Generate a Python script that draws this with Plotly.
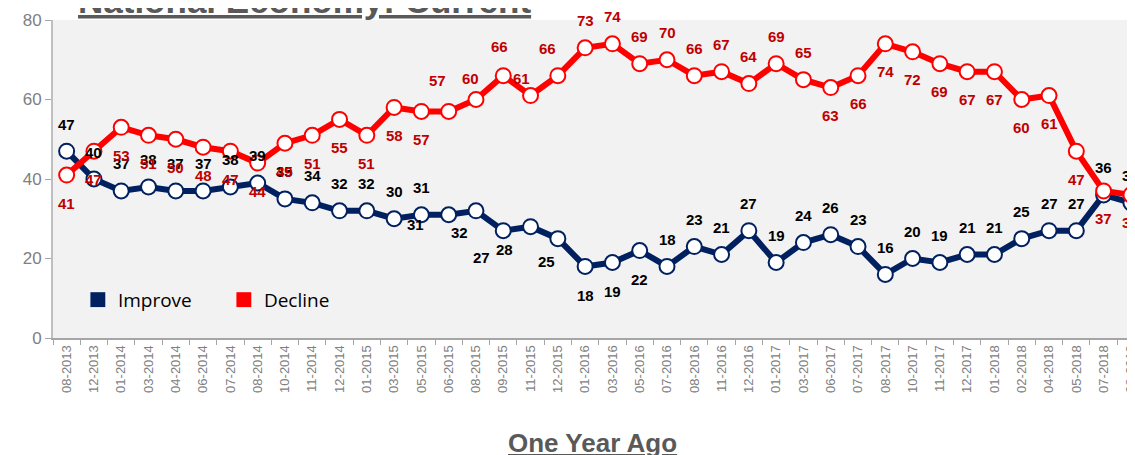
import plotly.graph_objects as go

categories = ["08-2013", "12-2013", "01-2014", "03-2014", "04-2014", "06-2014", "07-2014", "08-2014",
              "10-2014", "11-2014", "12-2014", "01-2015", "03-2015", "05-2015", "06-2015", "08-2015",
              "09-2015", "11-2015", "12-2015", "01-2016", "03-2016", "05-2016", "07-2016", "08-2016",
              "11-2016", "12-2016", "01-2017", "03-2017", "06-2017", "07-2017", "08-2017", "10-2017",
              "11-2017", "12-2017", "01-2018", "02-2018", "04-2018", "05-2018", "07-2018", "08-2018"]

improve = [47, 40, 37, 38, 37, 37, 38, 39, 35, 34, 32, 32, 30, 31, 31, 32, 27, 28, 25, 18,
           19, 22, 18, 23, 21, 27, 19, 24, 26, 23, 16, 20, 19, 21, 21, 25, 27, 27, 36, 34]

decline = [41, 47, 53, 51, 50, 48, 47, 44, 49, 51, 55, 51, 58, 57, 57, 60, 66, 61, 66, 73,
           74, 69, 70, 66, 67, 64, 69, 65, 63, 66, 74, 72, 69, 67, 67, 60, 61, 47, 37, 36]

y_ticks = [0, 20, 40, 60, 80]

# label offsets in screen pixels (dx right, dy down) -- styling only
imp_dx = [0] * 40
imp_dy = [-27] * 40
for i, (dx, dy) in {14: (-33, 10), 15: (-16, 22), 16: (-22, 27), 17: (-26, 23), 18: (-11, 23),
                    19: (0, 29), 20: (0, 29), 21: (0, 29)}.items():
    imp_dx[i], imp_dy[i] = dx, dy

dec_dx = [0] * 40
dec_dy = [28] * 40
for i in range(14, 28):
    dec_dy[i] = -27
for i, (dx, dy) in {14: (-11, -31), 15: (-5, -21), 16: (-4, -29), 17: (-9, -17), 18: (-10, -27)}.items():
    dec_dx[i], dec_dy[i] = dx, dy

NAVY = "#002060"
RED = "#FF0000"
DARKRED = "#C00000"
FONT = "Liberation Sans, Arial, sans-serif"

# the page body has an 8px default margin; figure size/margins compensate for it
W, H = 1127, 447
ML, MT, MB = 45, 12, 117
PW = W - ML

fig = go.Figure()

fig.add_trace(go.Scatter(
    x=categories, y=improve, mode="lines+markers", showlegend=False,
    line=dict(color=NAVY, width=6),
    marker=dict(symbol="circle", size=15, color="white", line=dict(color=NAVY, width=2)),
    cliponaxis=False,
))
fig.add_trace(go.Scatter(
    x=categories, y=decline, mode="lines+markers", showlegend=False,
    line=dict(color=RED, width=6),
    marker=dict(symbol="circle", size=15, color="white", line=dict(color=RED, width=2)),
    cliponaxis=False,
))

# legend entries
fig.add_trace(go.Scatter(x=[None], y=[None], mode="markers", name="Improve",
                         marker=dict(symbol="square", size=16, color=NAVY, line=dict(color="white", width=1))))
fig.add_trace(go.Scatter(x=[None], y=[None], mode="markers", name="Decline",
                         marker=dict(symbol="square", size=16, color=RED, line=dict(color="white", width=1))))

annotations = []
for c, v, dx, dy in zip(categories, improve, imp_dx, imp_dy):
    annotations.append(dict(x=c, y=v, xref="x", yref="y", text=f"<b>{v}</b>", showarrow=False,
                            xshift=dx, yshift=-dy, font=dict(family=FONT, size=15, color="black")))
for c, v, dx, dy in zip(categories, decline, dec_dx, dec_dy):
    annotations.append(dict(x=c, y=v, xref="x", yref="y", text=f"<b>{v}</b>", showarrow=False,
                            xshift=dx, yshift=-dy, font=dict(family=FONT, size=15, color=DARKRED)))

annotations.append(dict(x=(304 - 53) / PW, y=1, xref="paper", yref="paper", xanchor="center",
                        yanchor="bottom", yshift=-2, showarrow=False,
                        text="<b><u>National Economy: Current</u></b>",
                        font=dict(family=FONT, size=35, color="#595959")))
annotations.append(dict(x=(592 - 53) / PW, y=0, xref="paper", yref="paper", xanchor="center",
                        yanchor="middle", yshift=-105, showarrow=False,
                        text="<b><u>One Year Ago</u></b>",
                        font=dict(family=FONT, size=26, color="#595959")))

fig.update_layout(
    width=W, height=H,
    margin=dict(l=ML, r=0, t=MT, b=MB, pad=0),
    plot_bgcolor="#F2F2F2", paper_bgcolor="white",
    annotations=annotations,
    legend=dict(orientation="h", x=0.023, y=0.12, xanchor="left", yanchor="middle",
                bgcolor="rgba(0,0,0,0)", font=dict(family="Open Sans, sans-serif", size=19, color="black"),
                entrywidth=101, entrywidthmode="pixels", itemsizing="trace"),
    xaxis=dict(type="category", range=[-0.5, 39.15], tickangle=-90, ticks="outside", tickson="boundaries",
               ticklen=5, tickcolor="#A6A6A6", showline=True, linecolor="#A6A6A6", linewidth=2,
               showgrid=False, zeroline=False, automargin=False,
               tickfont=dict(family=FONT, size=13, color="#808080")),
    yaxis=dict(range=[0, 80], tickvals=y_ticks, ticks="outside", ticklen=6, tickcolor="#A6A6A6",
               showline=True, linecolor="#BFBFBF", linewidth=2, showgrid=False, zeroline=False,
               automargin=False,
               tickfont=dict(family=FONT, size=17, color="#808080")),
)

fig.write_html("out.html")
